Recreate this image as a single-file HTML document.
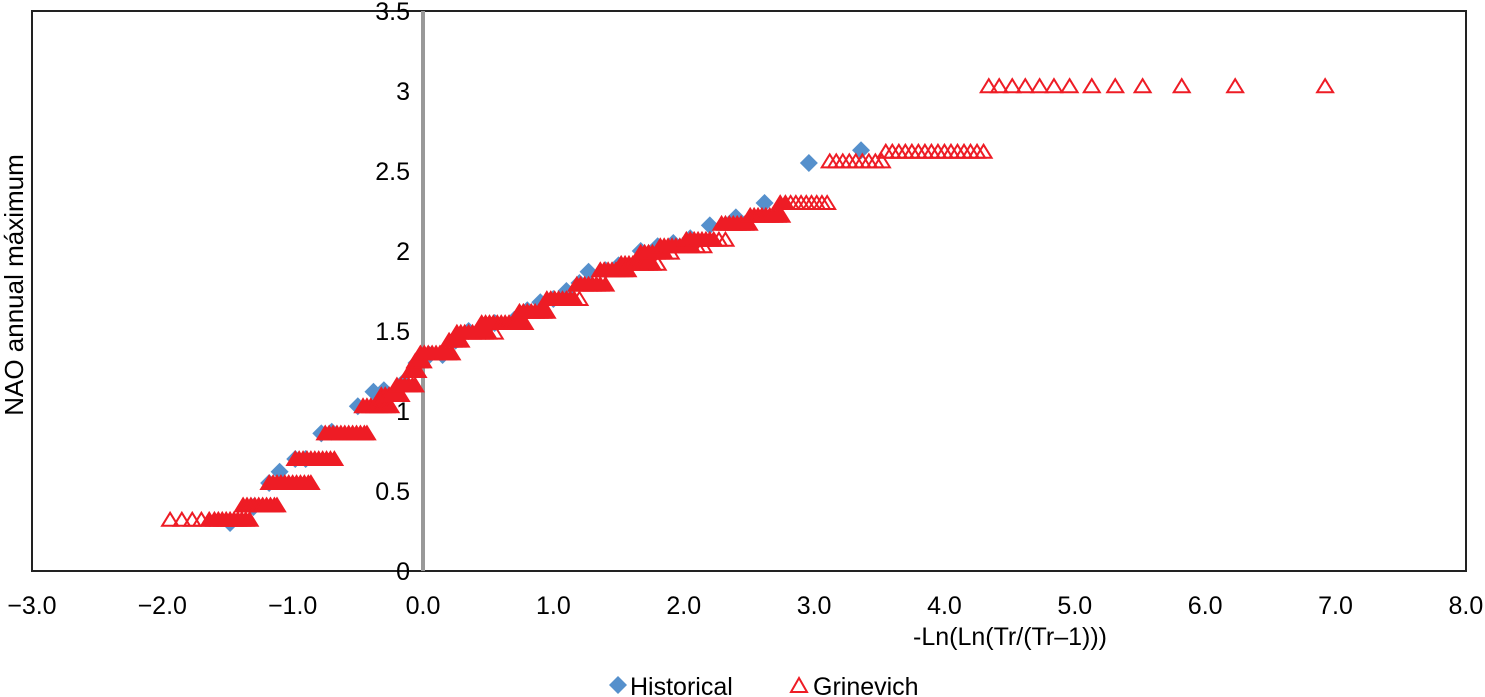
<!DOCTYPE html>
<html><head><meta charset="utf-8">
<style>
html,body{margin:0;padding:0;background:#fff;}
svg{display:block;font-family:"Liberation Sans",Arial,sans-serif;}
</style></head>
<body>
<svg id="chart" width="1485" height="697" viewBox="0 0 1485 697" xmlns="http://www.w3.org/2000/svg">
<rect x="32" y="11" width="1434" height="560" fill="#fff" stroke="#222" stroke-width="2"/>
<line x1="423" y1="11" x2="423" y2="571" stroke="#999" stroke-width="4"/>
<g id="yticks"></g>
<g id="xticks"></g>
<g id="hist"></g>
<g id="grin"></g>
<text transform="translate(23,285) rotate(-90)" text-anchor="middle" font-size="26" fill="#000">NAO annual máximum</text>
<text x="1010" y="645" text-anchor="middle" font-size="25" fill="#000">-Ln(Ln(Tr/(Tr–1)))</text>
<g>
  <g>
    <path d="M618,676 L627,685 L618,694 L609,685 Z" fill="#5590cc"/>
    <text x="630" y="695" font-size="25" fill="#000">Historical</text>
  </g>
  <g>
    <path d="M799,678 L807,692 L791,692 Z" fill="none" stroke="#ee1c25" stroke-width="2"/>
    <text x="813" y="695" font-size="25" fill="#000">Grinevich</text>
  </g>
</g>
</svg>
<script>
const yTicks=[0,0.5,1,1.5,2,2.5,3,3.5];
const yTickLabels=["0","0.5","1","1.5","2","2.5","3","3.5"];
const xTicks=[-3,-2,-1,0,1,2,3,4,5,6,7,8];
const xTickLabels=["−3.0","−2.0","−1.0","0.0","1.0","2.0","3.0","4.0","5.0","6.0","7.0","8.0"];
const grinevichLevels=[0.32,0.41,0.55,0.70,0.86,1.03,1.10,1.16,1.25,1.31,1.36,1.44,1.49,1.55,1.62,1.70,1.79,1.88,1.92,1.99,2.03,2.07,2.17,2.22,2.30,2.56,2.62,3.03];
const grinevichX=[
[-1.94,-1.85,-1.77,-1.70,-1.64,-1.60,-1.57,-1.54,-1.51,-1.48,-1.45,-1.42,-1.39,-1.36,-1.33],
[-1.38,-1.35,-1.32,-1.29,-1.26,-1.23,-1.20,-1.17,-1.14,-1.12],
[-1.18,-1.15,-1.12,-1.09,-1.06,-1.03,-1.00,-0.97,-0.94,-0.91,-0.88,-0.86],
[-0.98,-0.95,-0.92,-0.89,-0.86,-0.83,-0.80,-0.77,-0.74,-0.71,-0.68],
[-0.75,-0.72,-0.69,-0.66,-0.63,-0.60,-0.57,-0.54,-0.51,-0.48,-0.45,-0.43],
[-0.46,-0.43,-0.40,-0.37,-0.34,-0.31,-0.28,-0.25],
[-0.32,-0.29,-0.26,-0.23,-0.20,-0.17],
[-0.20,-0.17,-0.14,-0.11,-0.08,-0.06],
[-0.10,-0.07,-0.04],
[-0.06,-0.03,0.00],
[-0.02,0.01,0.04,0.07,0.10,0.13,0.16,0.19,0.22],
[0.20,0.23,0.26,0.29],
[0.26,0.29,0.32,0.35,0.38,0.41,0.44,0.47,0.50,0.55],
[0.45,0.48,0.51,0.54,0.57,0.60,0.63,0.66,0.69,0.72,0.75,0.78],
[0.74,0.77,0.80,0.83,0.86,0.89,0.92,0.95],
[0.95,0.98,1.01,1.04,1.07,1.10,1.13,1.16,1.20],
[1.18,1.21,1.24,1.27,1.30,1.33,1.36,1.40],
[1.36,1.39,1.42,1.45,1.48,1.51,1.54,1.57],
[1.52,1.55,1.58,1.61,1.64,1.67,1.70,1.73,1.76,1.80],
[1.67,1.70,1.73,1.76,1.79,1.82,1.85,1.90],
[1.82,1.85,1.88,1.91,1.94,1.97,2.00,2.03,2.06,2.10,2.15],
[2.02,2.05,2.08,2.11,2.14,2.17,2.20,2.23,2.27,2.32],
[2.29,2.32,2.35,2.38,2.41,2.44,2.47,2.50],
[2.51,2.54,2.57,2.60,2.63,2.66,2.69,2.72,2.75],
[2.74,2.78,2.82,2.86,2.90,2.94,2.98,3.02,3.06,3.10],
[3.12,3.17,3.22,3.27,3.32,3.37,3.42,3.47,3.52],
[3.55,3.60,3.65,3.70,3.75,3.80,3.85,3.90,3.95,4.00,4.05,4.10,4.15,4.20,4.25,4.30],
[4.34,4.42,4.52,4.62,4.73,4.84,4.96,5.13,5.31,5.52,5.82,6.23,6.92]
];
const historicalX=[-1.48,-1.30,-1.18,-1.10,-0.98,-0.90,-0.78,-0.70,-0.50,-0.38,-0.30,-0.15,-0.05,0.05,0.15,0.25,0.35,0.45,0.55,0.70,0.80,0.90,1.00,1.10,1.20,1.27,1.40,1.50,1.67,1.80,1.92,2.05,2.20,2.40,2.62,2.96,3.36];
const historicalY=[0.30,0.40,0.55,0.62,0.70,0.70,0.86,0.87,1.03,1.12,1.13,1.18,1.30,1.35,1.35,1.44,1.50,1.52,1.55,1.57,1.63,1.68,1.70,1.75,1.80,1.87,1.88,1.91,2.00,2.03,2.05,2.08,2.16,2.21,2.30,2.55,2.63];

const NS="http://www.w3.org/2000/svg";
function sx(v){return 423+(v*(1466-32)/11);}
function sy(v){return 571-v*160;}
function mk(tag,attrs,parent){const e=document.createElementNS(NS,tag);for(const k in attrs)e.setAttribute(k,attrs[k]);parent.appendChild(e);return e;}

const yg=document.getElementById('yticks');
yTicks.forEach((t,i)=>{
  const e=mk('text',{x:410,y:sy(t)+9,'text-anchor':'end','font-size':25,fill:'#000'},yg);
  
  
  e.textContent=yTickLabels[i];
});
const xg=document.getElementById('xticks');
xTicks.forEach((t,i)=>{
  const e=mk('text',{x:sx(t),y:614,'text-anchor':'middle','font-size':25,fill:'#000'},xg);
  
  
  e.textContent=xTickLabels[i];
});

const hg=document.getElementById('hist');
historicalX.forEach((x,i)=>{
  const cx=sx(x),cy=sy(historicalY[i]);
  const p=mk('path',{d:`M${cx},${cy-9} L${cx+9},${cy} L${cx},${cy+9} L${cx-9},${cy} Z`,fill:'#5590cc'},hg);
  
  
});

const gg=document.getElementById('grin');
grinevichLevels.forEach((lv,li)=>{
  const xs=grinevichX[li];
  xs.forEach((x,i)=>{
    const cx=sx(x),cy=sy(lv);
    const prev=i>0?x-xs[i-1]:1, next=i<xs.length-1?xs[i+1]-x:1;
    const dense=Math.min(prev,next)<0.04;
    const p=mk('path',{d:`M${cx},${cy-7} L${cx+8},${cy+6} L${cx-8},${cy+6} Z`,fill:dense?'#ee1c25':'none',stroke:'#ee1c25','stroke-width':2},gg);
    
    
  });
});
</script>
</body></html>
